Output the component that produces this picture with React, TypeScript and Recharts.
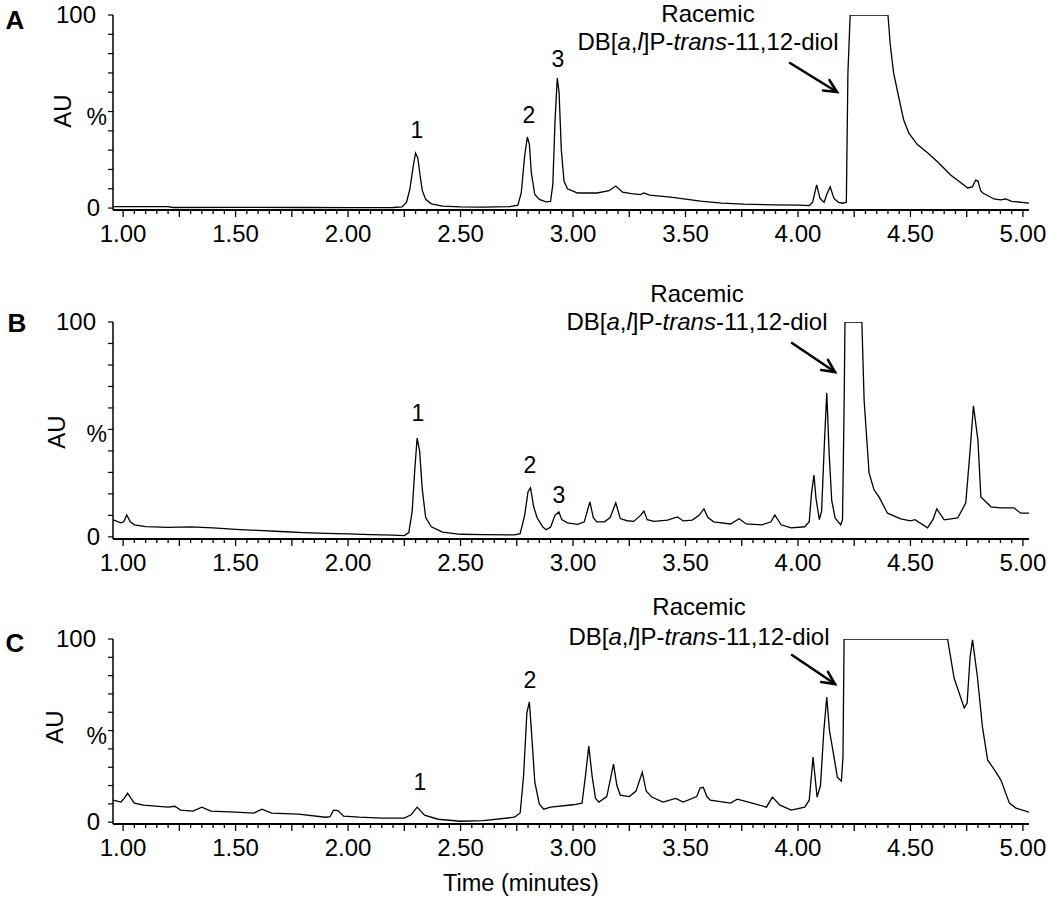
import React from "react";
import { LineChart, Line, XAxis, YAxis } from "recharts";

// chromatogram traces: [time (min), relative absorbance %]
const TRACE_A: [number, number][] = [
  [0.955, 0.8], [1.2, 0.8], [1.22, 0.3], [1.5, 0.4], [1.8, 0.3], [2.0, 0.2], [2.2, 0.3],
  [2.24, 0.6], [2.26, 3], [2.275, 10], [2.29, 22], [2.3, 28.5], [2.31, 26], [2.32, 17],
  [2.33, 9], [2.345, 4.5], [2.37, 2.2], [2.42, 1.0], [2.5, 0.6], [2.6, 0.5], [2.72, 0.8],
  [2.755, 1.5], [2.77, 8], [2.785, 27], [2.797, 36.8], [2.806, 33], [2.815, 18], [2.83, 7],
  [2.85, 4.5], [2.88, 3.2], [2.9, 3.5], [2.91, 12], [2.92, 45], [2.93, 67.3], [2.938, 60],
  [2.948, 30], [2.96, 14], [2.975, 10], [2.99, 9.3], [3.02, 7.8], [3.107, 7.8], [3.16, 9],
  [3.19, 11.4], [3.22, 8.2], [3.26, 7.5], [3.3, 7], [3.315, 7.8], [3.34, 6.7], [3.434, 5.7],
  [3.567, 3.6], [3.66, 2.6], [3.76, 2], [3.9, 1.7], [4.01, 1.5], [4.05, 1.3], [4.065, 3],
  [4.083, 12], [4.098, 5], [4.116, 3], [4.128, 7], [4.143, 11], [4.16, 5], [4.18, 3],
  [4.2, 2.5], [4.215, 3], [4.222, 70], [4.232, 100], [4.4, 100], [4.41, 85], [4.425, 70],
  [4.444, 59.6], [4.47, 45.6], [4.493, 38.8], [4.53, 33], [4.577, 28.5], [4.62, 24],
  [4.65, 20.5], [4.68, 17], [4.72, 13.5], [4.755, 10.4], [4.775, 11], [4.79, 14.5],
  [4.8, 14], [4.812, 9], [4.822, 7.8], [4.871, 4.7], [4.9, 4.2], [4.924, 4.7], [4.95, 3.5],
  [5.027, 2.6],
];

const TRACE_B: [number, number][] = [
  [0.955, 7.9], [0.99, 6.5], [1.003, 7], [1.016, 10.2], [1.032, 7], [1.05, 5.6], [1.1, 4.8],
  [1.2, 4.4], [1.3, 4.6], [1.4, 4.2], [1.5, 3.5], [1.6, 3], [1.7, 2.5], [1.8, 2], [1.9, 1.6],
  [2.0, 1.4], [2.1, 1.0], [2.2, 0.8], [2.25, 0.6], [2.27, 2], [2.285, 12], [2.297, 32],
  [2.307, 46], [2.318, 40], [2.33, 22], [2.345, 9], [2.37, 4.7], [2.42, 2.2], [2.5, 1.2],
  [2.6, 1], [2.74, 0.9], [2.765, 1.5], [2.785, 10], [2.8, 21], [2.811, 22.8], [2.825, 14],
  [2.84, 9], [2.865, 4.7], [2.88, 3.3], [2.9, 4.5], [2.92, 10], [2.937, 11.6], [2.95, 8],
  [2.975, 6.5], [3.02, 5.8], [3.05, 7], [3.075, 16.3], [3.09, 9], [3.105, 7], [3.14, 7],
  [3.165, 9], [3.19, 15.8], [3.21, 8.5], [3.24, 7.5], [3.27, 7.2], [3.3, 10], [3.315, 12],
  [3.33, 8], [3.36, 7.2], [3.42, 7.8], [3.464, 9.3], [3.49, 7.4], [3.53, 7.8], [3.56, 10],
  [3.582, 13], [3.6, 9], [3.625, 7], [3.7, 6], [3.738, 8.4], [3.77, 6], [3.84, 5.6],
  [3.88, 7], [3.897, 10.2], [3.925, 5.6], [3.97, 4.2], [4.03, 4.7], [4.05, 7], [4.06, 20],
  [4.071, 28.8], [4.08, 18], [4.095, 8], [4.105, 12], [4.118, 45], [4.128, 67], [4.138, 40],
  [4.15, 17], [4.165, 8.8], [4.19, 5.6], [4.198, 8], [4.205, 60], [4.209, 100], [4.284, 100],
  [4.294, 63.7], [4.316, 29.8], [4.338, 21.9], [4.36, 18.6], [4.398, 11], [4.457, 8.4],
  [4.5, 7.4], [4.52, 8], [4.576, 4.2], [4.6, 8], [4.617, 13], [4.65, 7.9], [4.71, 8.8],
  [4.746, 15.8], [4.765, 40], [4.78, 61], [4.8, 45], [4.813, 18.6], [4.858, 14], [4.9, 13.5],
  [4.96, 13.5], [4.99, 11], [5.027, 11],
];

const TRACE_C: [number, number][] = [
  [0.955, 12], [0.99, 11], [1.005, 13], [1.02, 15.8], [1.035, 13], [1.05, 10.4], [1.09, 9.3],
  [1.2, 8.2], [1.23, 8.7], [1.255, 6.6], [1.31, 6], [1.35, 8.2], [1.39, 6], [1.5, 5.5],
  [1.58, 4.9], [1.617, 7.1], [1.66, 4.9], [1.78, 4.4], [1.9, 2.7], [1.92, 3], [1.935, 6.6],
  [1.955, 6.3], [1.98, 3.3], [2.05, 2.7], [2.15, 2.2], [2.25, 2.2], [2.28, 4], [2.307, 8.2],
  [2.34, 3.8], [2.4, 1.6], [2.5, 0.5], [2.6, 0.8], [2.74, 2.7], [2.765, 5], [2.78, 25],
  [2.795, 60], [2.806, 65.6], [2.815, 50], [2.83, 22], [2.85, 10], [2.87, 7.1], [2.9, 8.2],
  [3.0, 9.5], [3.04, 10.4], [3.055, 25], [3.07, 41.5], [3.085, 25], [3.1, 13], [3.115, 11],
  [3.15, 14], [3.18, 31.7], [3.195, 20], [3.21, 14.8], [3.25, 14], [3.28, 17], [3.308, 27.3],
  [3.325, 17], [3.35, 13.7], [3.4, 11], [3.456, 13], [3.49, 11], [3.55, 14], [3.565, 18.6],
  [3.579, 19], [3.595, 14], [3.61, 12], [3.7, 10.4], [3.73, 12.6], [3.78, 11], [3.86, 8.2],
  [3.886, 13.7], [3.92, 9.3], [3.97, 6.6], [4.03, 8.2], [4.05, 12], [4.067, 35.5],
  [4.085, 13.7], [4.1, 20], [4.115, 50], [4.128, 68.3], [4.14, 50], [4.155, 39.3],
  [4.175, 24.6], [4.193, 22.4], [4.2, 35.5], [4.205, 100], [4.665, 100], [4.694, 78.7],
  [4.739, 62.3], [4.752, 65], [4.765, 90], [4.776, 99.5], [4.798, 79], [4.82, 52],
  [4.843, 34], [4.88, 27.3], [4.902, 23], [4.94, 10.4], [4.969, 7.7], [5.027, 5.5],
];

const X_LABELS = ["1.00", "1.50", "2.00", "2.50", "3.00", "3.50", "4.00", "4.50", "5.00"];
const Y_TICKS = [0, 10, 20, 30, 40, 50, 60, 70, 80, 90, 100];
const X_DOMAIN: [number, number] = [0.955, 5.027];
// minor tick every 0.05 min, major every 0.25
const X_TICKS = Array.from({ length: 81 }, (_, i) => Math.round(100 + i * 5) / 100);

const FONT = "'Liberation Sans', Arial, sans-serif";

const XTick = (props: any) => {
  const { x, y, payload } = props;
  const hund = Math.round(payload.value * 100);
  const major = hund % 25 === 0;
  const label = X_LABELS.find((l) => Math.round(parseFloat(l) * 100) === hund);
  return (
    <g>
      <line x1={x} x2={x} y1={y} y2={y + (major ? 7 : 4)} stroke="#000" strokeWidth={1.3} />
      {label && (
        <text x={x} y={y + 32} textAnchor="middle" fontFamily={FONT} fontSize={24} fill="#000">
          {label}
        </text>
      )}
    </g>
  );
};

const YTick = (props: any) => {
  const { x, y, payload } = props;
  const v = payload.value;
  if (v === 100)
    return <text x={x - 12} y={y + 8} textAnchor="end" fontFamily={FONT} fontSize={24} fill="#000">100</text>;
  if (v === 0)
    return <text x={x - 8} y={y + 8} textAnchor="end" fontFamily={FONT} fontSize={24} fill="#000">0</text>;
  if (v === 50)
    return <text x={x - 1} y={y + 13} textAnchor="end" fontFamily={FONT} fontSize={23} fill="#000">%</text>;
  return <g />;
};

function Panel({ trace, top, marginTop, height }: { trace: [number, number][]; top: number; marginTop: number; height: number }) {
  const data = trace.map(([t, v]) => ({ t, v }));
  return (
    <div style={{ position: "absolute", left: 0, top }}>
      <LineChart width={1050} height={height} data={data} margin={{ top: marginTop, right: 21, left: 0, bottom: 0 }}>
        <XAxis
          dataKey="t"
          type="number"
          domain={X_DOMAIN}
          allowDataOverflow
          ticks={X_TICKS}
          interval={0}
          tick={<XTick />}
          tickLine={false}
          tickSize={0}
          tickMargin={0}
          height={60}
          axisLine={{ stroke: "#000", strokeWidth: 2 }}
        />
        <YAxis
          type="number"
          domain={[-1, 100]}
          allowDataOverflow
          ticks={Y_TICKS}
          interval={0}
          width={113}
          tick={<YTick />}
          tickSize={5}
          tickMargin={0}
          tickLine={{ stroke: "#000", strokeWidth: 1.2 }}
          axisLine={{ stroke: "#000", strokeWidth: 1.5 }}
        />
        <Line type="linear" dataKey="v" stroke="#000" strokeWidth={1.3} dot={false} isAnimationActive={false} />
      </LineChart>
    </div>
  );
}

function Arrow({ x1, y1, x2, y2 }: { x1: number; y1: number; x2: number; y2: number }) {
  const a = Math.atan2(y2 - y1, x2 - x1);
  const len = 14;
  const spread = 0.45;
  const p1 = [x2 - len * Math.cos(a - spread), y2 - len * Math.sin(a - spread)];
  const p2 = [x2 - len * Math.cos(a + spread), y2 - len * Math.sin(a + spread)];
  return (
    <g stroke="#000" strokeWidth={2.6} fill="none" strokeLinecap="round">
      <line x1={x1} y1={y1} x2={x2} y2={y2} />
      <polyline points={`${p1[0]},${p1[1]} ${x2},${y2} ${p2[0]},${p2[1]}`} />
    </g>
  );
}

function Compound({ cx, y1, y2 }: { cx: number; y1: number; y2: number }) {
  return (
    <g fontFamily={FONT} fontSize={24} fill="#000" textAnchor="middle">
      <text x={cx} y={y1}>Racemic</text>
      <text x={cx} y={y2}>
        DB[<tspan fontStyle="italic">a</tspan>,<tspan fontStyle="italic">l</tspan>]P-
        <tspan fontStyle="italic">trans</tspan>-11,12-diol
      </text>
    </g>
  );
}

function PeakLabel({ x, y, text }: { x: number; y: number; text: string }) {
  return (
    <text x={x} y={y + 8} textAnchor="middle" fontFamily={FONT} fontSize={23} fill="#000">
      {text}
    </text>
  );
}

function SideLabels({ letter, lx, ly, ax, ay }: { letter: string; lx: number; ly: number; ax: number; ay: number }) {
  return (
    <g fontFamily={FONT} fill="#000">
      <text x={lx} y={ly} textAnchor="middle" fontSize={26} fontWeight="bold">{letter}</text>
      <text x={ax} y={ay} textAnchor="middle" fontSize={24} transform={`rotate(-90 ${ax} ${ay})`} dy={8}>AU</text>
    </g>
  );
}

export default function App() {
  return (
    <div style={{ position: "absolute", left: 0, top: 0, width: 1050, height: 899, background: "#fff" }}>
      <Panel trace={TRACE_A} top={0} marginTop={15} height={270} />
      <Panel trace={TRACE_B} top={300} marginTop={22} height={299} />
      <Panel trace={TRACE_C} top={600} marginTop={39} height={284} />
      <svg width={1050} height={899} style={{ position: "absolute", left: 0, top: 0, pointerEvents: "none" }}>
        <SideLabels letter="A" lx={15} ly={29} ax={63} ay={111} />
        <SideLabels letter="B" lx={17} ly={332} ax={57} ay={432} />
        <SideLabels letter="C" lx={15} ly={652} ax={55} ay={727} />

        <Compound cx={708} y1={22} y2={50} />
        <Arrow x1={790} y1={63} x2={837} y2={92} />
        <PeakLabel x={417} y={130} text="1" />
        <PeakLabel x={529} y={115} text="2" />
        <PeakLabel x={558} y={59} text="3" />

        <Compound cx={697} y1={302} y2={330} />
        <Arrow x1={792} y1={343} x2={835} y2={372} />
        <PeakLabel x={418} y={413} text="1" />
        <PeakLabel x={530} y={465} text="2" />
        <PeakLabel x={559} y={495} text="3" />

        <Compound cx={699} y1={615} y2={645} />
        <Arrow x1={792} y1={655} x2={835} y2={684} />
        <PeakLabel x={420} y={782} text="1" />
        <PeakLabel x={530} y={680} text="2" />

        <text x={521} y={891} textAnchor="middle" fontFamily={FONT} fontSize={23.5} fill="#000">Time (minutes)</text>
      </svg>
    </div>
  );
}
